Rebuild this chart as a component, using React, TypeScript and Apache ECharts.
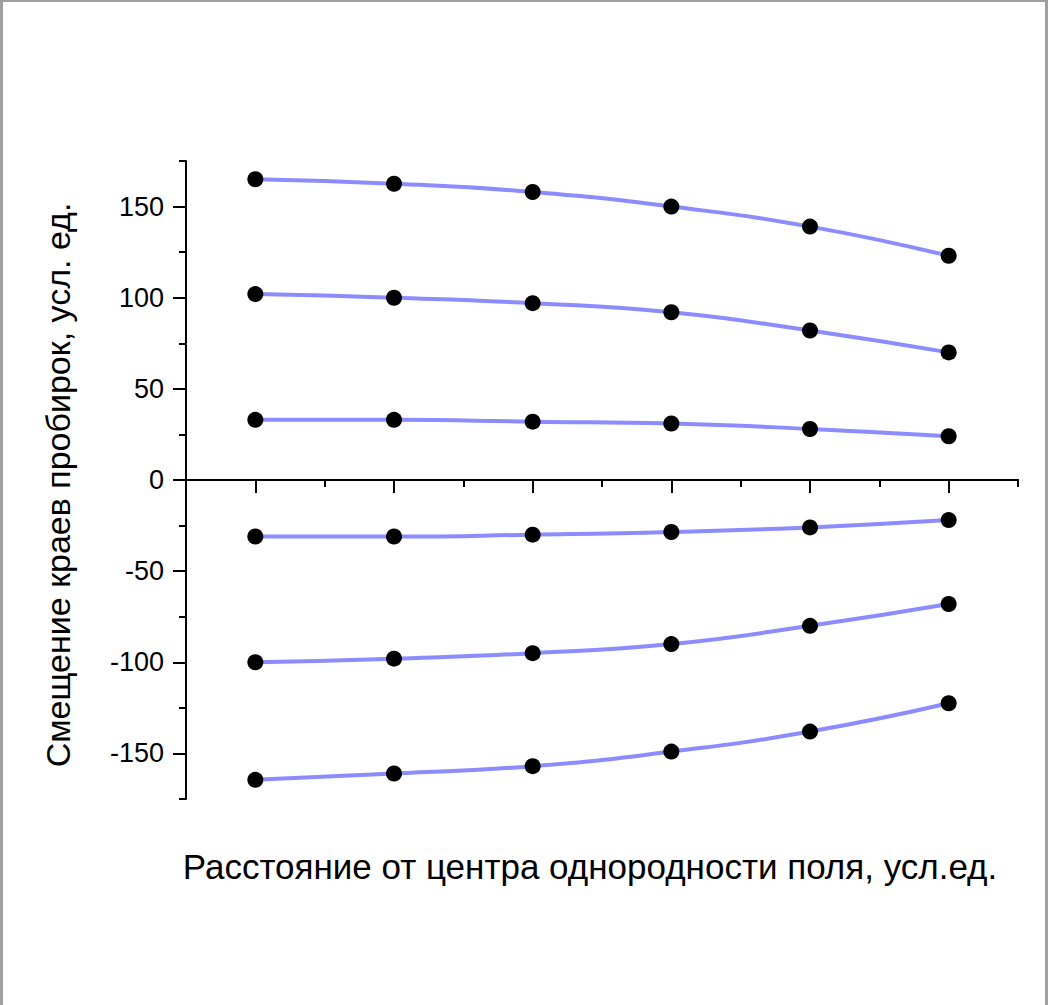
import React, { useEffect, useRef } from "react";
import * as echarts from "echarts";

const xPositions = [1, 2, 3, 4, 5, 6];
const series1 = [165, 162.5, 158, 150, 139, 123];
const series2 = [102, 100, 97, 92, 82, 70];
const series3 = [33, 33, 32, 31, 28, 24];
const series4 = [-31, -31, -30, -28.5, -26, -22];
const series5 = [-100, -98, -95, -90, -80, -68];
const series6 = [-164.5, -161, -157, -149, -138, -122.5];
const allSeries = [series1, series2, series3, series4, series5, series6];
const yTickLabels = ["-150", "-100", "-50", "0", "50", "100", "150"];
const xCategories = ["1", "2", "3", "4", "5", "6"];
const xTitle = "Расстояние от центра однородности поля, усл.ед.";
const yTitle = "Смещение краев пробирок, усл. ед.";

export default function App() {
  const ref = useRef<HTMLDivElement>(null);
  useEffect(() => {
    document.body.style.margin = "0";
    const chart = echarts.init(ref.current!, null, { renderer: "svg" });
    const font = "'Liberation Sans', Arial, sans-serif";
    chart.setOption({
      animation: false,
      backgroundColor: "#fff",
      grid: { left: 186, right: 30, top: 161, bottom: 206 },
      xAxis: [
        {
          type: "value",
          min: 0.5,
          max: 6.5,
          interval: 0.5,
          axisLine: { onZero: true, onZeroAxisIndex: 0, lineStyle: { color: "#000", width: 2 } },
          axisTick: { show: true, inside: false, length: 7, lineStyle: { color: "#000", width: 2 } },
          axisLabel: { show: false },
          splitLine: { show: false },
        },
        {
          type: "category",
          data: xCategories,
          position: "bottom",
          boundaryGap: true,
          axisLine: { show: true, onZero: true, onZeroAxisIndex: 0, lineStyle: { color: "#000", width: 2 } },
          axisTick: { show: true, alignWithLabel: true, length: 13, lineStyle: { color: "#000", width: 2 } },
          axisLabel: { show: false },
          splitLine: { show: false },
        },
      ],
      yAxis: [
        {
          type: "value",
          min: -175,
          max: 175,
          interval: 25,
          axisLine: { show: true, onZero: false, lineStyle: { color: "#000", width: 2 } },
          axisTick: { show: true, length: 7, lineStyle: { color: "#000", width: 2 } },
          axisLabel: { show: false },
          splitLine: { show: false },
        },
        {
          type: "category",
          data: yTickLabels,
          position: "left",
          boundaryGap: true,
          axisLine: { show: false, onZero: false },
          axisTick: { show: true, alignWithLabel: true, length: 13, lineStyle: { color: "#000", width: 2 } },
          axisLabel: { show: true, color: "#000", fontSize: 27, fontFamily: font, margin: 22 },
          splitLine: { show: false },
        },
      ],
      series: allSeries.map((vals) => ({
        type: "line",
        xAxisIndex: 0,
        yAxisIndex: 0,
        data: vals.map((v, i) => [xPositions[i], v]),
        smooth: true,
        symbol: "circle",
        symbolSize: 16,
        itemStyle: { color: "#000" },
        lineStyle: { color: "#8c8cff", width: 4 },
      })),
      graphic: [
        { type: "rect", shape: { x: 0, y: 0, width: 1048, height: 2 }, style: { fill: "#a0a0a0" } },
        { type: "rect", shape: { x: 0, y: 0, width: 3, height: 1005 }, style: { fill: "#a0a0a0" } },
        { type: "rect", shape: { x: 1045, y: 0, width: 3, height: 1005 }, style: { fill: "#a0a0a0" } },
        {
          type: "text",
          x: 590,
          y: 866,
          style: { text: xTitle, font: `35px ${font}`, fill: "#000", align: "center", verticalAlign: "middle" },
        },
        {
          type: "text",
          x: 58,
          y: 485,
          rotation: Math.PI / 2,
          style: { text: yTitle, font: `34px ${font}`, fill: "#000", align: "center", verticalAlign: "middle" },
        },
      ],
    });
    return () => chart.dispose();
  }, []);
  return <div ref={ref} style={{ width: 1048, height: 1005 }} />;
}
